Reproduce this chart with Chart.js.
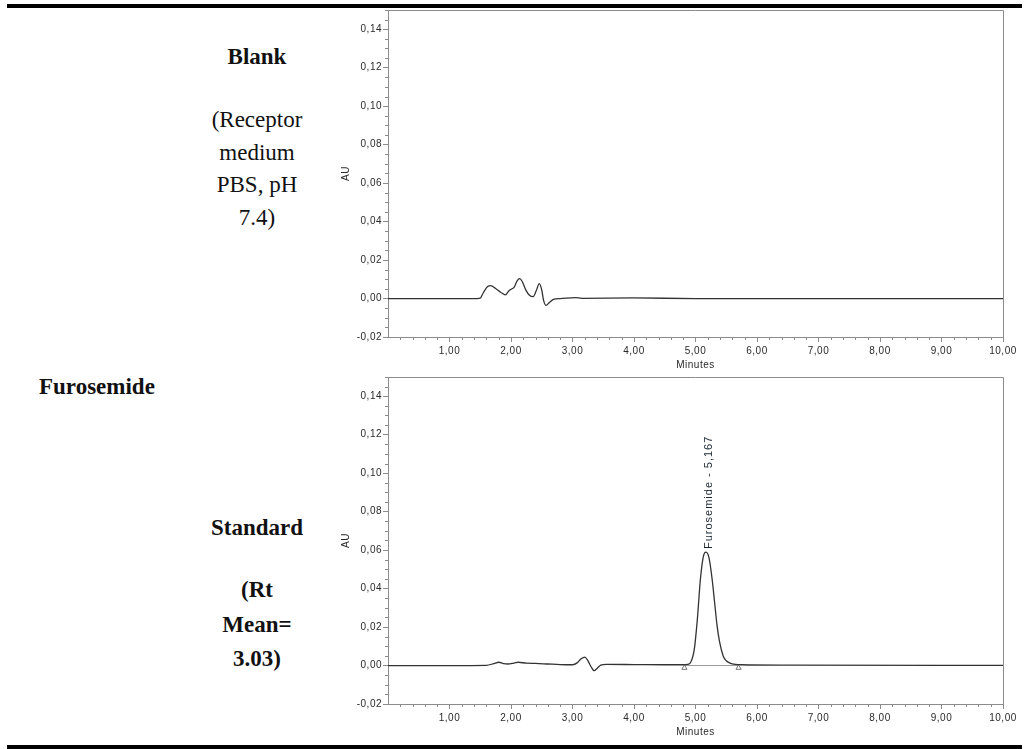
<!DOCTYPE html>
<html>
<head>
<meta charset="utf-8">
<script src="https://cdn.jsdelivr.net/npm/chart.js@4.4.0/dist/chart.umd.min.js"></script>
<style>
  html, body { margin: 0; padding: 0; background: #fff; }
  body { width: 1029px; height: 749px; position: relative; overflow: hidden;
         font-family: "Liberation Serif", "Times New Roman", serif; color: #111; }
  .rule { position: absolute; left: 7px; width: 1015px; height: 4px; background: #000; }
  .lbl { position: absolute; text-align: center; font-size: 23px; }
  .col { left: 197px; width: 120px; }
  .b { font-weight: bold; }
  canvas { position: absolute; left: 340px; }
</style>
</head>
<body>
<div class="rule" style="top:4px"></div>
<div class="rule" style="top:745px"></div>

<div class="lbl col b" style="top:40px; line-height:33px">Blank</div>
<div class="lbl col" style="top:104px; line-height:32.5px">(Receptor<br>medium<br>PBS, pH<br>7.4)</div>

<div class="lbl b" style="left:39px; top:370px; line-height:33px; text-align:left">Furosemide</div>
<div class="lbl col b" style="top:511px; line-height:33px">Standard</div>
<div class="lbl col b" style="top:573px; line-height:34.5px">(Rt<br>Mean=<br>3.03)</div>

<canvas id="blank" width="689" height="371" style="top:0px"></canvas>
<canvas id="standard" width="689" height="371" style="top:367px"></canvas>

<script>
// axis ticks
const xTicks = [1, 2, 3, 4, 5, 6, 7, 8, 9, 10];
const yTicks = [-0.02, 0, 0.02, 0.04, 0.06, 0.08, 0.10, 0.12, 0.14];

// blank chromatogram (minutes / AU)
const blankTime = [0, 1.0, 1.45, 1.50, 1.55, 1.62, 1.67, 1.75, 1.83, 1.91,
                   1.96, 2.01, 2.05, 2.10, 2.14, 2.18, 2.24, 2.30, 2.36, 2.41,
                   2.46, 2.50, 2.53, 2.57, 2.62, 2.70, 2.80, 3.05, 3.15, 4.00,
                   5.00, 10.00];
const blankAU = [0, 0, 0, 0.0002, 0.0030, 0.0062, 0.0067, 0.0052, 0.0033, 0.0019,
                 0.0038, 0.0050, 0.0058, 0.0092, 0.0103, 0.0090, 0.0045, 0.0017, 0.0010, 0.0040,
                 0.0078, 0.0045, -0.0010, -0.0036, -0.0022, -0.0003, 0, 0.0005, 0.0001, 0.0003,
                 0, 0];

// furosemide standard chromatogram
const stdTime = [0, 1.00, 1.60, 1.72, 1.80, 1.88, 1.95, 2.05, 2.12, 2.25,
                 2.40, 2.60, 2.80, 3.00, 3.08, 3.14, 3.20, 3.25, 3.30, 3.35,
                 3.40, 3.46, 3.55, 4.00, 4.50, 4.80, 4.87, 4.92, 4.98, 5.03,
                 5.08, 5.13, 5.17, 5.22, 5.27, 5.31, 5.35, 5.39, 5.45, 5.50,
                 5.56, 5.65, 5.75, 6.50, 10.00];
const stdAU = [0, 0, 0.0001, 0.0010, 0.0017, 0.0010, 0.0008, 0.0013, 0.0017, 0.0012,
               0.0011, 0.0008, 0.0005, 0.0004, 0.0015, 0.0035, 0.0044, 0.0025, -0.0005, -0.0027,
               -0.0015, 0.0002, 0.0006, 0.0005, 0.0004, 0.0004, 0.0006, 0.0016, 0.0084, 0.024,
               0.045, 0.057, 0.059, 0.056, 0.045, 0.033, 0.021, 0.0125, 0.005, 0.0025,
               0.0013, 0.0006, 0.0004, 0.0002, 0.0001];

// peak annotation + integration markers
const peakNames = ['Furosemide'];
const peakTimes = [5.167];
const peakHeights = [0.059];
const markTimes = [4.82, 5.70];
const markAU = [-0.0012, -0.0012];

const fmt = (v, d = 2) => v.toFixed(d).replace('.', ',');
const axisFont = { family: '"Liberation Sans", Arial, sans-serif', size: 10 };
const ink = '#2a2a2a';
const axisGray = '#8c8c8c';

// short minor ticks + top/right frame of the plot box
const minorTicks = {
  id: 'minorTicks',
  beforeDraw(chart) { chart.ctx.letterSpacing = '0.5px'; },
  afterDraw(chart) {
    const { ctx, chartArea: a, scales: { x, y } } = chart;
    ctx.save();
    ctx.strokeStyle = axisGray;
    ctx.lineWidth = 1;
    ctx.beginPath();
    for (let i = 0; i <= 34; i++) {
      if (i % 4 === 0) continue;
      const py = Math.round(y.getPixelForValue(-0.02 + i * 0.005)) + 0.5;
      ctx.moveTo(a.left - 3, py); ctx.lineTo(a.left, py);
    }
    for (let i = 1; i < 50; i++) {
      if (i % 5 === 0) continue;
      const px = Math.round(x.getPixelForValue(i * 0.2)) + 0.5;
      ctx.moveTo(px, a.bottom); ctx.lineTo(px, a.bottom + 3);
    }
    ctx.moveTo(a.left, Math.round(a.top) + 0.5);
    ctx.lineTo(Math.round(a.right) + 0.5, Math.round(a.top) + 0.5);
    ctx.lineTo(Math.round(a.right) + 0.5, a.bottom);
    ctx.stroke();
    ctx.restore();
  }
};

const peakLabels = {
  id: 'peakLabels',
  afterDatasetsDraw(chart) {
    const { ctx, scales: { x, y } } = chart;
    peakNames.forEach((name, i) => {
      const px = x.getPixelForValue(peakTimes[i]);
      const py = y.getPixelForValue(peakHeights[i]);
      ctx.save();
      ctx.translate(px + 3, py - 3);
      ctx.rotate(-Math.PI / 2);
      ctx.font = '11px "Liberation Sans", Arial, sans-serif';
      ctx.letterSpacing = '1px';
      ctx.fillStyle = '#1e2833';
      ctx.textAlign = 'left';
      ctx.textBaseline = 'middle';
      ctx.fillText(name + ' - ' + fmt(peakTimes[i], 3), 0, 0);
      ctx.restore();
    });
  }
};

function trace(times, values) {
  return {
    data: times.map((t, i) => ({ x: t, y: values[i] })),
    borderColor: '#333',
    borderWidth: 1.3,
    pointRadius: 0,
    cubicInterpolationMode: 'monotone'
  };
}

function makeChart(id, datasets, plugins) {
  return new Chart(document.getElementById(id), {
    type: 'line',
    data: { datasets },
    plugins,
    options: {
      responsive: false,
      animation: false,
      devicePixelRatio: 1,
      layout: { padding: { top: 10, right: 26, left: 0, bottom: 0 } },
      plugins: { legend: { display: false }, tooltip: { enabled: false } },
      scales: {
        x: {
          type: 'linear', min: 0, max: 10,
          afterBuildTicks: s => { s.ticks = xTicks.map(v => ({ value: v })); },
          afterFit: s => { s.height = 34; },
          ticks: { font: axisFont, color: ink, padding: 3, maxRotation: 0, autoSkip: false,
                   callback: v => fmt(v) },
          grid: { drawOnChartArea: false, tickLength: 5, color: axisGray },
          border: { color: axisGray, width: 1 },
          title: { display: true, text: 'Minutes', font: axisFont, color: ink,
                   padding: { top: 0, bottom: 0 } }
        },
        y: {
          type: 'linear', min: -0.02, max: 0.15,
          afterBuildTicks: s => { s.ticks = yTicks.map(v => ({ value: v })); },
          afterFit: s => { s.width = 48; },
          ticks: { font: axisFont, color: ink, padding: 1, autoSkip: false,
                   callback: v => fmt(v) },
          grid: { drawOnChartArea: false, tickLength: 5, color: axisGray },
          border: { color: axisGray, width: 1 },
          title: { display: true, text: 'AU', font: axisFont, color: ink,
                   padding: { top: 0, bottom: 0 } }
        }
      }
    }
  });
}

makeChart('blank', [trace(blankTime, blankAU)], [minorTicks]);

makeChart('standard', [
  trace(stdTime, stdAU),
  {
    data: markTimes.map(t => ({ x: t, y: 0 })),
    borderColor: '#9a9a9a', borderWidth: 1, pointRadius: 0
  },
  {
    data: markTimes.map((t, i) => ({ x: t, y: markAU[i] })),
    showLine: false, pointStyle: 'triangle', pointRadius: 3,
    borderColor: '#777', backgroundColor: '#fff', borderWidth: 1
  }
], [minorTicks, peakLabels]);
</script>
</body>
</html>
